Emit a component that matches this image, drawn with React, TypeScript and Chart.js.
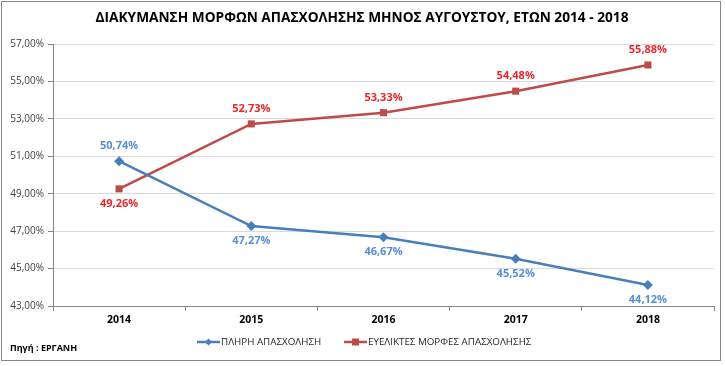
import React, { useEffect, useRef } from "react";
import { Chart, registerables } from "chart.js";

Chart.register(...registerables);

const TITLE = "ΔΙΑΚΥΜΑΝΣΗ ΜΟΡΦΩΝ ΑΠΑΣΧΟΛΗΣΗΣ ΜΗΝΟΣ ΑΥΓΟΥΣΤΟΥ, ΕΤΩΝ 2014 - 2018";
const SOURCE = "Πηγή : ΕΡΓΑΝΗ";
const years = ["2014", "2015", "2016", "2017", "2018"];
const fullTime = [50.74, 47.27, 46.67, 45.52, 44.12];
const flexible = [49.26, 52.73, 53.33, 54.48, 55.88];
const fullTimeLabelPos = ["above", "below", "below", "below", "below"];
const flexibleLabelPos = ["below", "above", "above", "above", "above"];
const seriesNames = ["ΠΛΗΡΗ ΑΠΑΣΧΟΛΗΣΗ", "ΕΥΕΛΙΚΤΕΣ ΜΟΡΦΕΣ ΑΠΑΣΧΟΛΗΣΗΣ"];

const FONT = "'Open Sans', 'DejaVu Sans', sans-serif";
const BLUE = "#4A7EBB";
const RED = "#BE4B48";
const BLUE_LABEL = "#558ED5";
const RED_LABEL = "#E8262B";

const fmt = (v: number) => v.toFixed(2).replace(".", ",") + "%";

const extrasPlugin = {
  id: "extras",
  afterDatasetsDraw(chart: any) {
    const ctx = chart.ctx;
    ctx.save();
    const positions = [fullTimeLabelPos, flexibleLabelPos];
    const colors = [BLUE_LABEL, RED_LABEL];
    chart.data.datasets.forEach((ds: any, di: number) => {
      const meta = chart.getDatasetMeta(di);
      ctx.font = `bold 11px ${FONT}`;
      ctx.fillStyle = colors[di];
      ctx.textAlign = "center";
      ctx.textBaseline = "middle";
      meta.data.forEach((pt: any, i: number) => {
        const dy = positions[di][i] === "above" ? -15 : 15;
        ctx.fillText(fmt(ds.data[i]), pt.x, pt.y + dy);
      });
    });
    ctx.font = `bold 13.7px ${FONT}`;
    ctx.fillStyle = "#000";
    ctx.textAlign = "center";
    ctx.textBaseline = "middle";
    ctx.fillText(TITLE, 362, 18);
    ctx.font = `bold 9px ${FONT}`;
    ctx.textAlign = "left";
    ctx.fillText(SOURCE, 10, 348);
    const items = [
      { x: 197, color: BLUE, style: "diamond", text: seriesNames[0] },
      { x: 344, color: RED, style: "square", text: seriesNames[1] },
    ];
    const ly = 342;
    items.forEach((it) => {
      ctx.strokeStyle = it.color;
      ctx.lineWidth = 2.5;
      ctx.beginPath();
      ctx.moveTo(it.x, ly);
      ctx.lineTo(it.x + 23, ly);
      ctx.stroke();
      ctx.fillStyle = it.color;
      const cx = it.x + 11.5;
      if (it.style === "diamond") {
        ctx.beginPath();
        ctx.moveTo(cx, ly - 3.5);
        ctx.lineTo(cx + 3.5, ly);
        ctx.lineTo(cx, ly + 3.5);
        ctx.lineTo(cx - 3.5, ly);
        ctx.closePath();
        ctx.fill();
      } else {
        ctx.fillRect(cx - 3.5, ly - 3.5, 7, 7);
      }
      ctx.font = `9.8px ${FONT}`;
      ctx.fillStyle = "#262626";
      ctx.textAlign = "left";
      ctx.textBaseline = "middle";
      ctx.fillText(it.text, it.x + 24, ly);
    });
    ctx.restore();
  },
};

export default function App() {
  const ref = useRef<HTMLCanvasElement>(null);
  useEffect(() => {
    document.body.style.margin = "0";
    const chart = new Chart(ref.current!, {
      type: "line",
      data: {
        labels: years,
        datasets: [
          {
            label: seriesNames[0],
            data: fullTime,
            borderColor: BLUE,
            backgroundColor: BLUE,
            borderWidth: 2.5,
            pointStyle: "rectRot",
            pointRadius: 5,
            pointBorderWidth: 0,
            tension: 0,
          },
          {
            label: seriesNames[1],
            data: flexible,
            borderColor: RED,
            backgroundColor: RED,
            borderWidth: 2.5,
            pointStyle: "rect",
            pointRadius: 5,
            pointBorderWidth: 0,
            tension: 0,
          },
        ],
      },
      options: {
        animation: false,
        responsive: false,
        devicePixelRatio: 1,
        layout: { padding: { top: 44, right: 11, bottom: 35, left: 0 } },
        plugins: { legend: { display: false }, title: { display: false }, tooltip: { enabled: false } },
        scales: {
          x: {
            offset: true,
            grid: { offset: true, drawOnChartArea: false, drawTicks: true, tickLength: 5, color: "#868686" },
            border: { color: "#868686" },
            ticks: { font: { family: FONT, size: 10.5, weight: "bold" }, color: "#000", padding: 3 },
            afterFit: (s: any) => { s.height = 25; },
          },
          y: {
            min: 43,
            max: 57,
            ticks: {
              stepSize: 2,
              callback: (v: any) => fmt(Number(v)),
              font: { family: FONT, size: 10 },
              color: "#404040",
              padding: 4,
            },
            grid: { color: "#D9D9D9", tickLength: 5, tickColor: "#868686" },
            border: { color: "#868686" },
            afterFit: (s: any) => { s.width = 53; },
          },
        },
      },
      plugins: [extrasPlugin],
    });
    return () => chart.destroy();
  }, []);
  return (
    <div style={{ position: "relative", width: 725, height: 366 }}>
      <canvas ref={ref} width={725} height={366} style={{ display: "block" }} />
      <div
        style={{
          position: "absolute",
          left: 1,
          top: 1,
          width: 720,
          height: 360,
          border: "1px solid #868686",
          boxSizing: "border-box",
          pointerEvents: "none",
        }}
      />
    </div>
  );
}
